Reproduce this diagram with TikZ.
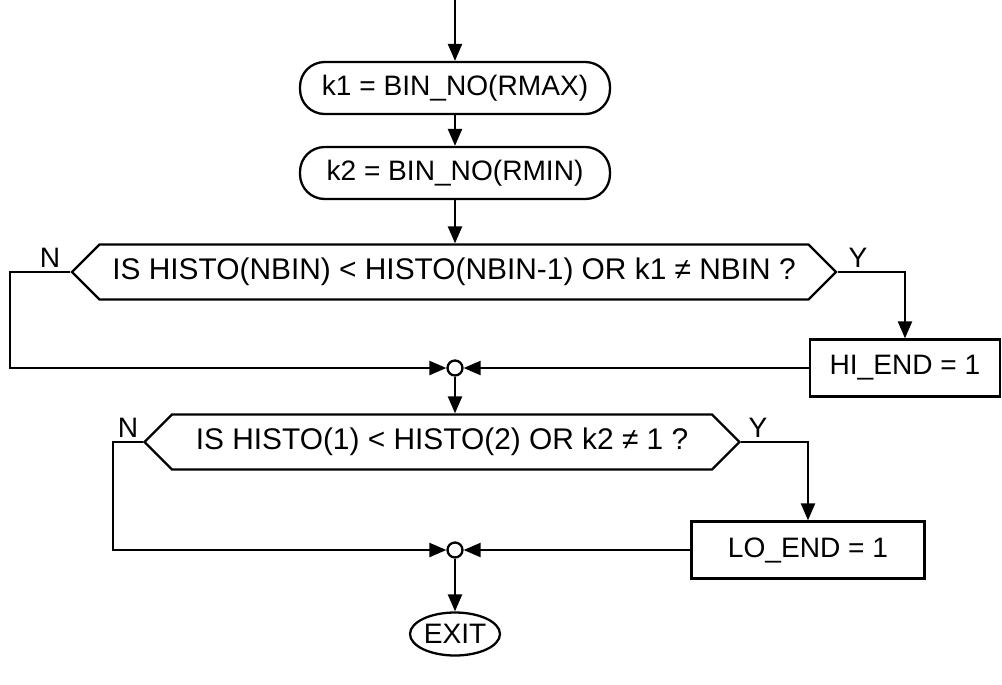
\documentclass[tikz,border=0pt]{standalone}
\usepackage{fontspec}
\setmainfont{Liberation Sans}
\usetikzlibrary{arrows.meta,shapes.symbols,shapes.geometric}

\begin{document}
\begin{tikzpicture}[x=0.02cm,y=-0.02cm,
    line width=1.3pt, font=\fontsize{16}{19}\selectfont,
    >={Triangle[length=3.4mm,width=2.8mm]},
    proc/.style={draw, rounded corners=14pt, minimum width=6.2cm, minimum height=1.04cm},
    setbox/.style={draw, minimum height=1.14cm},
    test/.style={draw, signal, signal to=west and east, signal pointer angle=90,
      minimum height=1.1cm, inner xsep=0pt, font=\fontsize{17}{20}\selectfont},
    junct/.style={draw, circle, fill=white, minimum size=0.3cm, inner sep=0pt},
    lbl/.style={inner sep=1pt}]
  \useasboundingbox (0,0) rectangle (1002,684);

  \coordinate (in) at (455,0);
  \node[proc] (k1) at (455,88) {k1 = BIN\_NO(RMAX)};
  \node[proc] (k2) at (455,173) {k2 = BIN\_NO(RMIN)};

  \node[test, minimum width=15.28cm] (q1) at (454,272) {IS HISTO(NBIN) < HISTO(NBIN-1) OR k1 ≠ NBIN ?};
  \node[lbl] (n1) at (50,258) {N};
  \node[lbl] (y1) at (858,258) {Y};
  \coordinate (q1n) at (10,272);
  \node[setbox, minimum width=3.8cm] (hi) at (905,368) {HI\_END = 1};
  \node[junct] (j1) at (455,368) {};

  \node[test, minimum width=11.9cm] (q2) at (442,442) {IS HISTO(1) < HISTO(2) OR k2 ≠ 1 ?};
  \node[lbl] (n2) at (128,428) {N};
  \node[lbl] (y2) at (758,428) {Y};
  \coordinate (q2n) at (113,442);
  \node[setbox, minimum width=4.66cm] (lo) at (808,550) {LO\_END = 1};
  \node[junct] (j2) at (455,550) {};

  \node[draw, ellipse, inner sep=0pt, minimum width=1.8cm, minimum height=0.86cm] (exit) at (455,634) {EXIT};

  \draw[->] (in) -- (k1);
  \draw[->] (k1) -- (k2);
  \draw[->] (k2) -- (k2 |- q1.north);
  \draw[->] (q1.west) -- (q1n) |- (j1);
  \draw[->] (q1.east) -| (hi);
  \draw[->] (hi) -- (j1);
  \draw[->] (j1) -- (j1 |- q2.north);
  \draw[->] (q2.west) -- (q2n) |- (j2);
  \draw[->] (q2.east) -| (lo);
  \draw[->] (lo) -- (j2);
  \draw[->] (j2) -- (exit);
\end{tikzpicture}
\end{document}
